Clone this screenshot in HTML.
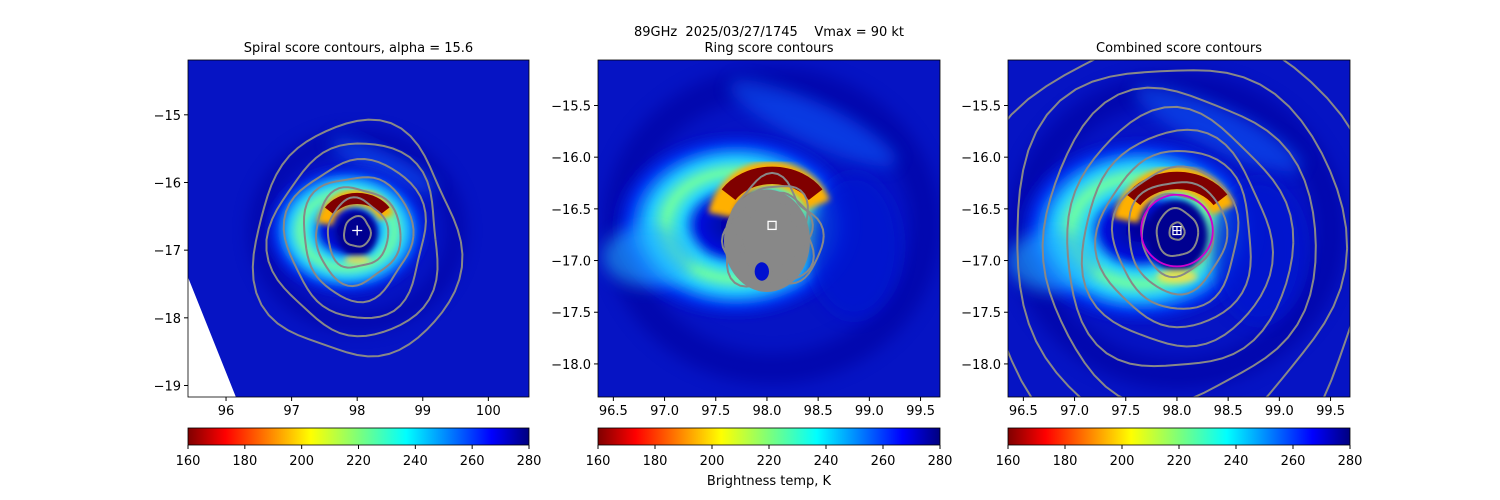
<!DOCTYPE html>
<html><head><meta charset="utf-8">
<style>
html,body{margin:0;padding:0;background:#fff;}
svg{display:block;font-family:"DejaVu Sans","Liberation Sans",sans-serif;}
</style></head>
<body>
<svg id="fig" width="1500" height="500" viewBox="0 0 1500 500" xmlns="http://www.w3.org/2000/svg">
<defs>
<linearGradient id="jetr" x1="0" x2="1" y1="0" y2="0">
<stop offset="0" stop-color="#7f0000"/><stop offset="0.11" stop-color="#ff0000"/>
<stop offset="0.36" stop-color="#ffff00"/><stop offset="0.5" stop-color="#7dff7a"/>
<stop offset="0.64" stop-color="#00ffff"/><stop offset="0.89" stop-color="#0000ff"/>
<stop offset="1" stop-color="#00007f"/>
</linearGradient>
<radialGradient id="ring">
<stop offset="0" stop-color="#000090"/><stop offset="0.3" stop-color="#0010e0"/>
<stop offset="0.42" stop-color="#20d0ff"/><stop offset="0.55" stop-color="#70ffa0"/>
<stop offset="0.68" stop-color="#20c8ff"/><stop offset="0.84" stop-color="#0030f0"/>
<stop offset="1" stop-color="#0010c8" stop-opacity="0"/>
</radialGradient>
<filter id="blur" x="-30%" y="-30%" width="160%" height="160%"><feGaussianBlur stdDeviation="3"/></filter>
<filter id="blur2" x="-30%" y="-30%" width="160%" height="160%"><feGaussianBlur stdDeviation="8"/></filter>
<clipPath id="c0"><rect x="188" y="60" width="341" height="337"/></clipPath>
<clipPath id="c1"><rect x="598" y="60" width="342" height="337"/></clipPath>
<clipPath id="c2"><rect x="1008" y="60" width="342" height="337"/></clipPath>
</defs>
<g id="root"></g>
</svg>
<script>
// ---- data ----
const panelTitles = ["Spiral score contours, alpha = 15.6", "Ring score contours", "Combined score contours"];
const xTicks0 = [96, 97, 98, 99, 100];
const yTicks0 = [-15, -16, -17, -18, -19];
const xTicks12 = [96.5, 97.0, 97.5, 98.0, 98.5, 99.0, 99.5];
const yTicks12 = [-15.5, -16.0, -16.5, -17.0, -17.5, -18.0];
const cbTicks = [160, 180, 200, 220, 240, 260, 280];
const centerLon = [98.0, 98.05, 98.0];
const centerLat = [-16.71, -16.66, -16.71];
const spiralLevels = [0.22, 0.5, 0.7, 0.9, 1.15, 1.4, 1.7];
const combinedLevels = [0.08, 0.22, 0.38, 0.52, 0.66, 0.82, 1.0, 1.2, 1.45, 1.75, 2.1];
const ringLevels = [0.3, 0.35, 0.4, 0.45, 0.5];
const magentaRadius = 0.35;

const NS='http://www.w3.org/2000/svg';
const root=document.getElementById('root');
function mk(tag,attrs,parent){const e=document.createElementNS(NS,tag);for(const k in attrs)e.setAttribute(k,attrs[k]);(parent||root).appendChild(e);return e;}

const panels=[
 {x0:188,x1:529,y0:60,y1:397,lon0:95.42,lon1:100.62,lat0:-14.19,lat1:-19.17,xt:xTicks0,yt:yTicks0,fmt:v=>String(v)},
 {x0:598,x1:940,y0:60,y1:397,lon0:96.35,lon1:99.69,lat0:-15.06,lat1:-18.32,xt:xTicks12,yt:yTicks12,fmt:v=>v.toFixed(1)},
 {x0:1008,x1:1350,y0:60,y1:397,lon0:96.35,lon1:99.69,lat0:-15.06,lat1:-18.32,xt:xTicks12,yt:yTicks12,fmt:v=>v.toFixed(1)}
];
function sx(p,v){return p.x0+(v-p.lon0)/(p.lon1-p.lon0)*(p.x1-p.x0);}
function sy(p,v){return p.y0+(v-p.lat0)/(p.lat1-p.lat0)*(p.y1-p.y0);}
function scl(p){return (p.x1-p.x0)/(p.lon1-p.lon0);}
function neg(s){return s.replace('-','−');}

function contour(g,cx,cy,r,sc,wob,seed,stroke,w){
  let d='';const N=60;
  for(let i=0;i<=N;i++){const a=i/N*2*Math.PI;
    const rr=r*sc*(1+wob*Math.sin(3*a+seed)+wob*0.6*Math.cos(5*a+seed*2));
    const px=cx+rr*Math.cos(a)*0.92, py=cy+rr*Math.sin(a)*1.05+ (r*sc*0.1);
    d+=(i?'L':'M')+px.toFixed(1)+','+py.toFixed(1);}
  const e=mk('path',{d:d,fill:'none',stroke:stroke,'stroke-width':w},g);
  
  
  return e;
}

panels.forEach((p,i)=>{
  const g=mk('g',{'clip-path':'url(#c'+i+')'});
  
  
  mk('rect',{x:p.x0,y:p.y0,width:p.x1-p.x0,height:p.y1-p.y0,fill:'#0614c4'},g);
  const s=scl(p), cx=sx(p,centerLon[i]), cy=sy(p,centerLat[i]);
  mk('ellipse',{cx:cx,cy:cy,rx:s*1.5,ry:s*1.4,fill:'none',stroke:'#0000a0','stroke-width':s*0.3,opacity:0.6,filter:'url(#blur2)'},g);
  mk('ellipse',{cx:cx+s*0.4,cy:cy-s*1.0,rx:s*0.9,ry:s*0.2,fill:'#1060ff',opacity:0.5,filter:'url(#blur2)',transform:'rotate(25 '+(cx+s*0.4)+' '+(cy-s*1.0)+')'},g);
  if(i===0){
    mk('ellipse',{cx:cx-s*0.15,cy:cy,rx:s*1.3,ry:s*1.05,fill:'url(#ring)',filter:'url(#blur)'},g);
  } else {
    mk('ellipse',{cx:cx-s*0.35,cy:cy+s*0.0,rx:s*1.25,ry:s*0.95,fill:'url(#ring)',filter:'url(#blur)'},g);
    mk('ellipse',{cx:cx+s*0.8,cy:cy+s*0.2,rx:s*0.45,ry:s*0.7,fill:'#0018d0',opacity:0.8,filter:'url(#blur2)'},g);
    mk('ellipse',{cx:cx-s*1.2,cy:cy+s*0.3,rx:s*0.45,ry:s*0.3,fill:'#20b0ff',opacity:0.6,filter:'url(#blur2)'},g);
  }
  mk('ellipse',{cx:cx,cy:cy+s*0.05,rx:s*0.3,ry:s*0.35,fill:'#000090',filter:'url(#blur)'},g);
  const r1=s*0.5;
  mk('path',{d:'M'+(cx-r1)+','+(cy-s*0.1)+' A'+r1+','+r1+' 0 0 1 '+(cx+r1*0.9)+','+(cy-s*0.2),fill:'none',stroke:'#ffb000','stroke-width':s*0.25,filter:'url(#blur)'},g);
  mk('path',{d:'M'+(cx-r1*0.85)+','+(cy-s*0.3)+' A'+r1+','+(r1*0.8)+' 0 0 1 '+(cx+r1*0.85)+','+(cy-s*0.3),fill:'none',stroke:'#800000','stroke-width':s*0.17},g);
  mk('ellipse',{cx:cx,cy:cy+s*0.45,rx:s*0.2,ry:s*0.07,fill:'#ffe040',opacity:0.8,filter:'url(#blur)'},g);
  if(i===0){
    mk('polygon',{points:p.x0+','+sy(p,-17.4)+' '+sx(p,96.15)+','+p.y1+' '+p.x0+','+p.y1,fill:'#fff'},g);
    spiralLevels.forEach((r,k)=>contour(g,cx,cy,r,s,0.05,k,'#888','2'));
    const pl=mk('path',{d:'M'+(cx-5)+','+cy+'h10M'+cx+','+(cy-5)+'v10',stroke:'#fff','stroke-width':1.3},g);
    
  } else if(i===1){
    const blob=mk('ellipse',{cx:cx-s*0.05,cy:cy+s*0.15,rx:s*0.42,ry:s*0.5,fill:'#888'},g);
    
    ringLevels.forEach((r,k)=>contour(g,cx,cy+s*0.05,r,s,0.12,k*1.7,'#888','2'));
    mk('ellipse',{cx:cx-s*0.1,cy:cy+s*0.45,rx:s*0.07,ry:s*0.09,fill:'#0010d0'},g);
    const sq=mk('rect',{x:cx-4,y:cy-4,width:8,height:8,fill:'none',stroke:'#fff','stroke-width':1.3},g);
    
  } else {
    combinedLevels.forEach((r,k)=>contour(g,cx,cy,r,s,0.04,k,'#888','2'));
    const mc=mk('circle',{cx:cx,cy:cy,r:magentaRadius*s,fill:'none',stroke:'#d000d0','stroke-width':1.8},g);
    
    const sq=mk('path',{d:'M'+(cx-4)+','+(cy-4)+'h8v8h-8zM'+cx+','+(cy-4)+'v8M'+(cx-4)+','+cy+'h8',fill:'none',stroke:'#fff','stroke-width':1.2},g);
    
  }
  const fr=mk('rect',{x:p.x0,y:p.y0,width:p.x1-p.x0,height:p.y1-p.y0,fill:'none',stroke:'#000','stroke-width':0.8});
  
  const t=mk('text',{x:(p.x0+p.x1)/2,y:52,'text-anchor':'middle','font-size':13});
  t.textContent=panelTitles[i];
  
  p.xt.forEach(v=>{const x=sx(p,v);
    mk('line',{x1:x,x2:x,y1:p.y1,y2:p.y1+4,stroke:'#000'});
    const tx=mk('text',{x:x,y:p.y1+18,'text-anchor':'middle','font-size':13});tx.textContent=p.fmt(v);
    });
  p.yt.forEach(v=>{const y=sy(p,v);
    mk('line',{x1:p.x0-4,x2:p.x0,y1:y,y2:y,stroke:'#000'});
    const ty=mk('text',{x:p.x0-7,y:y+5,'text-anchor':'end','font-size':13});ty.textContent=neg(p.fmt(v));
    });
  const cb=mk('rect',{x:p.x0,y:428,width:p.x1-p.x0,height:17,fill:'url(#jetr)',stroke:'#000','stroke-width':0.8});
  
  cbTicks.forEach(v=>{const x=p.x0+(v-160)/120*(p.x1-p.x0);
    mk('line',{x1:x,x2:x,y1:445,y2:449,stroke:'#000'});
    const tc=mk('text',{x:x,y:465,'text-anchor':'middle','font-size':13});tc.textContent=v;
    });
});
const sup=mk('text',{x:769,y:36,'text-anchor':'middle','font-size':13,style:'white-space:pre'});
sup.textContent='89GHz  2025/03/27/1745    Vmax = 90 kt';

const cl=mk('text',{x:769,y:485,'text-anchor':'middle','font-size':13});
cl.textContent='Brightness temp, K';

</script>
</body></html>
